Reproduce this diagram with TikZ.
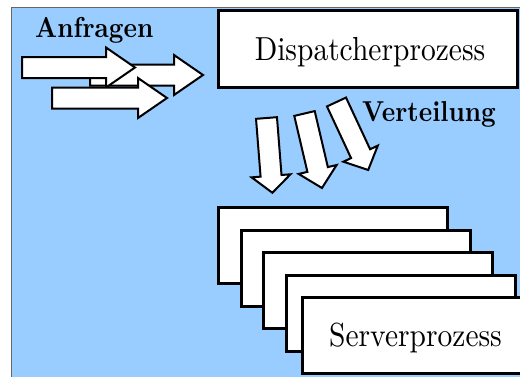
\documentclass[tikz,border=0pt]{standalone}
\usepackage{fontspec}
\setmainfont{lmroman10-regular.otf}[BoldFont=lmroman10-bold.otf]
\definecolor{bgblue}{RGB}{153,204,255}
\newcommand\blockarrow[5]{% tail point, angle, length, head length, head half width
  \begin{scope}[shift={#1}, rotate=#2]
    \draw[arrowbody] (0,-10.5) -- (#3-#4,-10.5) -- (#3-#4,-#5) -- (#3,0)
      -- (#3-#4,#5) -- (#3-#4,10.5) -- (0,10.5) -- cycle;
  \end{scope}}
% slightly taller setting for all labels
\newcommand\tallname[1]{\scalebox{1}[1.13]{#1}}
\begin{document}
\begin{tikzpicture}[x=1pt,y=-1pt,
  procbox/.style={draw=black, line width=3pt, fill=white, rectangle,
    inner sep=0pt, minimum width=229pt, minimum height=76pt},
  arrowbody/.style={draw=black, line width=2pt, fill=white, line join=miter},
  boldlabel/.style={inner sep=0pt, anchor=base west,
    font=\fontsize{25.5}{26}\selectfont\bfseries},
  boxlabel/.style={inner sep=0pt, anchor=base,
    font=\fontsize{29.5}{30}\selectfont}]
  \useasboundingbox (0,0) rectangle (520,376);
  \clip (0,0) rectangle (520,376);

  % background panel
  \draw[draw=black!60, fill=bgblue, line width=1pt] (11,7) rectangle (540,400);

  % dispatcher
  \node[procbox, minimum width=299pt, minimum height=77pt] (disp) at (367.5,48.5) {};
  \node[boxlabel] (disptext) at (370,60) {\tallname{Dispatcherprozess}};

  % incoming requests
  \node[boldlabel] (req) at (35,37) {\tallname{Anfragen}};
  \blockarrow{(90,75)}{0}{113}{29}{20}
  \blockarrow{(22,67.5)}{0}{113}{29}{20}
  \blockarrow{(52,98)}{0}{115}{29}{20}

  % distribution
  \node[boldlabel] (dist) at (362,121) {\tallname{Verteilung}};
  \blockarrow{(266.5,118)}{-85.5}{75}{17}{19.5}
  \blockarrow{(304.5,113.5)}{-76.8}{76.5}{19}{19.5}
  \blockarrow{(336.5,102)}{-65}{75}{18}{19}

  % stacked server processes
  \node[procbox] (srv1) at (332.5,245) {};
  \node[procbox] (srv2) at (355.5,268.5) {};
  \node[procbox] (srv3) at (377.5,290.5) {};
  \node[procbox] (srv4) at (400.5,313.5) {};
  \node[procbox] (srv5) at (416.5,335.5) {};
  \node[boxlabel] (srvtext) at (415.5,346) {\tallname{Serverprozess}};
\end{tikzpicture}
\end{document}
